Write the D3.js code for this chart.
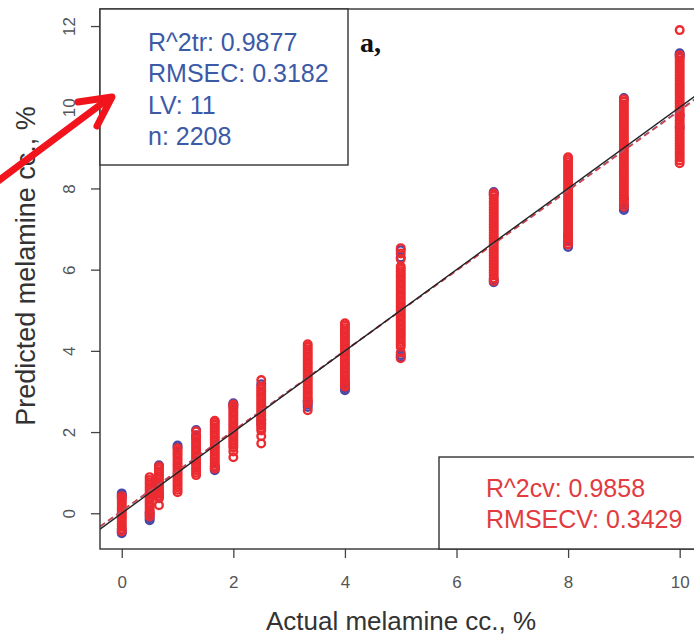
<!DOCTYPE html>
<html>
<head>
  <meta charset="utf-8">
  <title>PLS melamine</title>
  <style>
    body { margin: 0; background: #fff; }
    svg { display: block; }
    .tick text { font-family: "Liberation Sans", Arial, sans-serif; font-size: 17px; fill: #555; }
    .tick line { stroke: #444; stroke-width: 1.3px; }
    .lab { font-family: "Liberation Sans", Arial, sans-serif; fill: #333; }
    .stat { font-family: "Liberation Sans", Arial, sans-serif; font-size: 25px; }
  </style>
  <script src="https://d3js.org/d3.v7.min.js"></script>
</head>
<body>
  <script>
    // actual melamine concentrations (%)
    var actual = [0, 0.5, 0.667, 1, 1.333, 1.667, 2, 2.5, 3.333, 4, 5, 6.667, 8, 9, 10];

    // cross-validated predictions (red) per concentration
    var cvPredicted = [
      [-0.44,-0.38,-0.32,-0.27,-0.21,-0.15,-0.1,-0.04,0.02,0.08,0.13,0.19,0.25,0.31,0.36,0.42],
      [-0.08,-0.02,0.04,0.1,0.16,0.22,0.28,0.34,0.4,0.46,0.52,0.58,0.64,0.7,0.76,0.82,0.89],
      [0.2,0.37,0.43,0.49,0.55,0.61,0.67,0.73,0.79,0.85,0.91,0.97,1.03,1.09,1.15],
      [0.52,0.58,0.64,0.7,0.76,0.82,0.88,0.94,1.0,1.06,1.12,1.18,1.24,1.3,1.36,1.42,1.48,1.54,1.6],
      [0.94,1.0,1.06,1.12,1.18,1.24,1.3,1.36,1.42,1.48,1.54,1.6,1.66,1.72,1.78,1.84,1.92,2.02],
      [1.1,1.16,1.22,1.28,1.34,1.4,1.46,1.52,1.58,1.64,1.7,1.76,1.82,1.88,1.94,2.0,2.06,2.12,2.18,2.24,2.28],
      [1.38,1.52,1.62,1.68,1.74,1.8,1.86,1.92,1.98,2.04,2.1,2.16,2.22,2.28,2.34,2.4,2.46,2.52,2.58,2.64,2.68],
      [1.72,1.9,2.04,2.1,2.16,2.22,2.28,2.34,2.4,2.46,2.52,2.58,2.64,2.7,2.76,2.82,2.88,2.94,3.0,3.06,3.12,3.28],
      [2.54,2.72,2.78,2.84,2.9,2.96,3.02,3.08,3.14,3.2,3.26,3.32,3.38,3.44,3.5,3.56,3.62,3.68,3.74,3.8,3.86,3.92,3.98,4.04,4.1,4.16],
      [3.12,3.18,3.24,3.3,3.36,3.42,3.48,3.54,3.6,3.66,3.72,3.78,3.84,3.9,3.96,4.02,4.08,4.14,4.2,4.26,4.32,4.38,4.44,4.5,4.56,4.62,4.68],
      [3.82,3.96,4.1,4.16,4.22,4.28,4.34,4.4,4.46,4.52,4.58,4.64,4.7,4.76,4.82,4.88,4.94,5.0,5.06,5.12,5.18,5.24,5.3,5.36,5.42,5.48,5.54,5.6,5.66,5.72,5.78,5.84,5.9,5.96,6.02,6.08,6.26,6.4,6.53],
      [5.72,5.79,5.86,5.93,6.0,6.07,6.14,6.21,6.28,6.35,6.42,6.49,6.56,6.63,6.7,6.77,6.84,6.91,6.98,7.05,7.12,7.19,7.26,7.33,7.4,7.47,7.54,7.61,7.68,7.75,7.82,7.88],
      [6.62,6.69,6.76,6.83,6.9,6.97,7.04,7.11,7.18,7.25,7.32,7.39,7.46,7.53,7.6,7.67,7.74,7.81,7.88,7.95,8.02,8.09,8.16,8.23,8.3,8.37,8.44,8.51,8.58,8.65,8.72,8.77],
      [7.55,7.62,7.69,7.76,7.83,7.9,7.97,8.04,8.11,8.18,8.25,8.32,8.39,8.46,8.53,8.6,8.67,8.74,8.81,8.88,8.95,9.02,9.09,9.16,9.23,9.3,9.37,9.44,9.51,9.58,9.65,9.72,9.79,9.86,9.93,10.0,10.07,10.14,10.2],
      [8.62,8.69,8.76,8.83,8.9,8.97,9.04,9.11,9.18,9.25,9.32,9.39,9.46,9.53,9.6,9.67,9.74,9.81,9.88,9.95,10.02,10.09,10.16,10.23,10.3,10.37,10.44,10.51,10.58,10.65,10.72,10.79,10.86,10.93,11.0,11.07,11.14,11.21,11.28,11.9]
    ];

    // training predictions (blue), mostly visible at the ends of the bars
    var trPredicted = [
      [-0.49,-0.46,-0.4,0.4,0.45,0.49],
      [-0.17,-0.12,-0.05,0.02],
      [0.42,0.5,1.18],
      [1.62,1.67],
      [1.86,1.92,2.05],
      [1.06,1.1,1.16],
      [2.62,2.67,2.71],
      [2.2,2.3,3.18],
      [2.62,2.68,2.76],
      [3.03,3.08,3.14,3.22],
      [3.85,3.9,6.3,6.48],
      [5.69,5.75,7.85,7.91],
      [6.56,6.62,6.7,6.85],
      [7.47,7.52,7.6,7.75,10.23],
      [9.5,9.8,11.25,11.3,11.33]
    ];

    // fitted lines: [intercept, slope]
    var idealLine = [0, 1];
    var cvFit = [0.06, 0.9858];
    var trFit = [0.055, 0.9877];

    var trStats = ["R^2tr: 0.9877", "RMSEC: 0.3182", "LV: 11", "n: 2208"];
    var cvStats = ["R^2cv: 0.9858", "RMSECV: 0.3429"];

    var xTicks = [0, 2, 4, 6, 8, 10];
    var yTicks = [0, 2, 4, 6, 8, 10, 12];

    var width = 694, height = 635;
    var pLeft = 100, pRight = 702, pTop = 9, pBottom = 549;

    var svg = d3.select('body').append('svg')
      .attr('width', width)
      .attr('height', height);

    var x = d3.scaleLinear().domain([-0.39, 10.4]).range([pLeft, pRight]);
    var y = d3.scaleLinear().domain([-0.88, 12.42]).range([pBottom, pTop]);

    svg.append('clipPath').attr('id', 'plotclip')
      .append('rect')
        .attr('x', pLeft).attr('y', pTop)
        .attr('width', pRight - pLeft).attr('height', pBottom - pTop);

    var plot = svg.append('g').attr('clip-path', 'url(#plotclip)');

    // points: training first, cv on top
    function flatten(preds) {
      var out = [];
      preds.forEach(function(vals, i) {
        vals.forEach(function(v) { out.push({ a: actual[i], p: v }); });
      });
      return out;
    }

    plot.selectAll('.tr')
      .data(flatten(trPredicted))
      .enter().append('circle')
        .attr('class', 'tr')
        .attr('cx', d => x(d.a))
        .attr('cy', d => y(d.p))
        .attr('r', 3.8)
        .attr('fill', 'none')
        .attr('stroke', '#4a48a6')
        .attr('stroke-width', 2.4);

    plot.selectAll('.cv')
      .data(flatten(cvPredicted))
      .enter().append('circle')
        .attr('class', 'cv')
        .attr('cx', d => x(d.a))
        .attr('cy', d => y(d.p))
        .attr('r', 3.8)
        .attr('fill', 'none')
        .attr('stroke', '#ec2b31')
        .attr('stroke-width', 2.4);

    // lines
    var xs = x.domain();
    function fitLine(coef, color, dash, w) {
      plot.append('line')
        .attr('x1', x(xs[0])).attr('y1', y(coef[0] + coef[1] * xs[0]))
        .attr('x2', x(xs[1])).attr('y2', y(coef[0] + coef[1] * xs[1]))
        .attr('stroke', color)
        .attr('stroke-width', w)
        .attr('stroke-dasharray', dash);
    }
    fitLine(trFit, '#5566b0', '6,4', 1.6);
    fitLine(cvFit, '#d9454a', '6,4', 1.6);
    fitLine(idealLine, '#222', null, 1.4);

    // axes
    var xAxis = svg.append('g')
      .attr('transform', 'translate(0,' + pBottom + ')')
      .call(d3.axisBottom(x).tickValues(xTicks).tickSize(9).tickPadding(18).tickFormat(d3.format('d')));
    xAxis.select('.domain').remove();

    var yAxis = svg.append('g')
      .attr('transform', 'translate(' + pLeft + ',0)')
      .call(d3.axisLeft(y).tickValues(yTicks).tickSize(9).tickFormat(d3.format('d')));
    yAxis.select('.domain').remove();
    yAxis.selectAll('.tick text')
      .attr('x', null).attr('dy', null)
      .attr('transform', 'translate(-25,0) rotate(-90)')
      .style('text-anchor', 'middle');

    svg.append('rect')
      .attr('x', pLeft).attr('y', pTop)
      .attr('width', pRight - pLeft).attr('height', pBottom - pTop)
      .attr('fill', 'none')
      .attr('stroke', '#333')
      .attr('stroke-width', 1.4);

    // stats boxes
    svg.append('rect')
      .attr('x', pLeft).attr('y', pTop).attr('width', 248).attr('height', 156)
      .attr('fill', '#fff').attr('stroke', '#333').attr('stroke-width', 1.4);
    svg.selectAll('.trstat')
      .data(trStats)
      .enter().append('text')
        .attr('class', 'stat')
        .attr('x', 148)
        .attr('y', (d, i) => 51 + i * 31.3)
        .attr('fill', '#3c5aa6')
        .text(d => d);

    svg.append('rect')
      .attr('x', 439).attr('y', 457).attr('width', 280).attr('height', pBottom - 457)
      .attr('fill', '#fff').attr('stroke', '#333').attr('stroke-width', 1.4);
    svg.selectAll('.cvstat')
      .data(cvStats)
      .enter().append('text')
        .attr('class', 'stat')
        .attr('x', 486)
        .attr('y', (d, i) => 497 + i * 31)
        .attr('fill', '#e23b40')
        .text(d => d);

    // panel label
    svg.append('text')
      .attr('x', 360).attr('y', 52)
      .style('font-family', '"Liberation Serif", "DejaVu Serif", serif')
      .style('font-weight', 'bold')
      .style('font-size', '28px')
      .attr('fill', '#111')
      .text('a,');

    // axis titles
    svg.append('text')
      .attr('class', 'lab')
      .attr('x', 401).attr('y', 630)
      .style('font-size', '26px')
      .style('text-anchor', 'middle')
      .text('Actual melamine cc., %');

    svg.append('text')
      .attr('class', 'lab')
      .attr('transform', 'translate(35,266) rotate(-90)')
      .style('font-size', '27px')
      .style('text-anchor', 'middle')
      .text('Predicted melamine cc., %');

    // red annotation arrow
    svg.append('line')
      .attr('x1', -6).attr('y1', 184).attr('x2', 108).attr('y2', 99)
      .attr('stroke', '#f2141c').attr('stroke-width', 7).attr('stroke-linecap', 'round');
    svg.append('path')
      .attr('d', 'M78,102 L112,97 L97,126')
      .attr('fill', 'none')
      .attr('stroke', '#f2141c').attr('stroke-width', 7)
      .attr('stroke-linecap', 'round').attr('stroke-linejoin', 'round');
  </script>
</body>
</html>
